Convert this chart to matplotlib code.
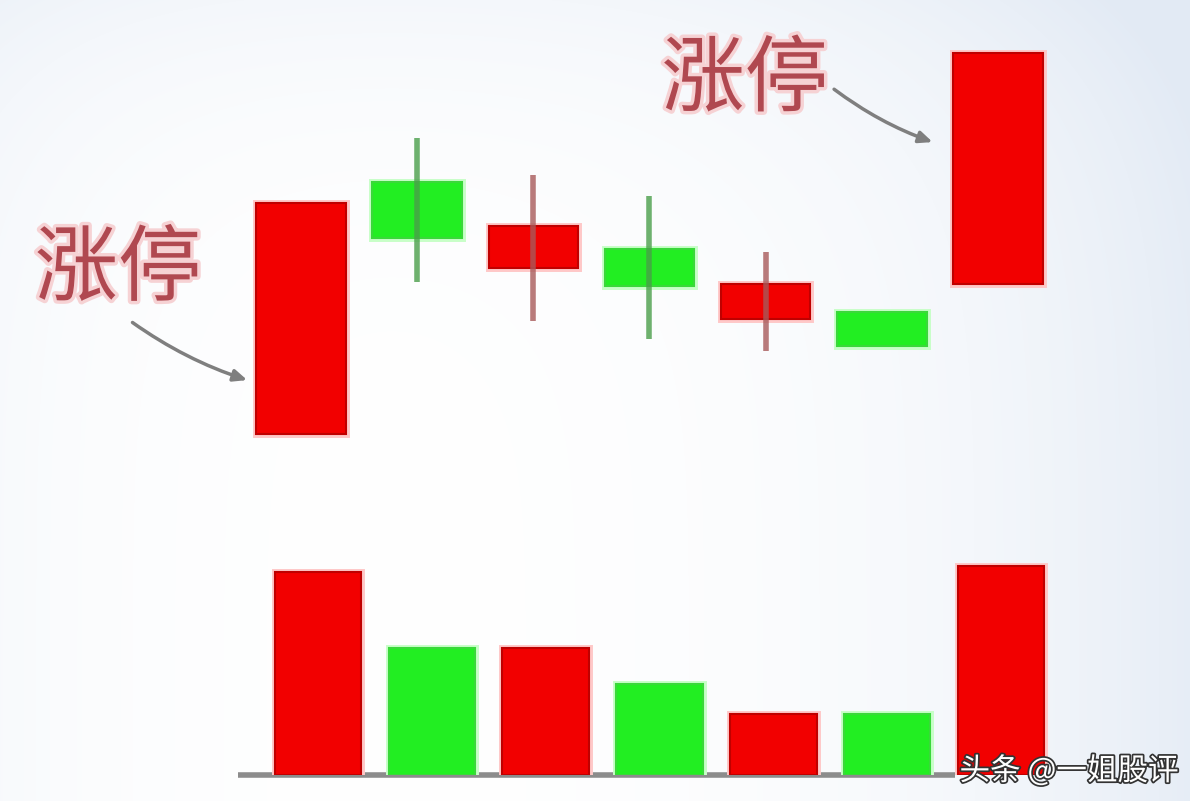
import numpy as np
import matplotlib
matplotlib.use('Agg')
import matplotlib.pyplot as plt
import matplotlib.patheffects as pe

plt.rcParams['font.family'] = ['Noto Sans CJK SC', 'DejaVu Sans']

# K线数据
opens = [10.00, 11.09, 10.72, 10.80, 10.50, 10.53, 10.65]
closes = [11.00, 10.85, 10.90, 10.64, 10.65, 10.38, 11.65]
highs = [11.00, 11.28, 11.12, 11.03, 10.79, 10.53, 11.65]
lows = [10.00, 10.66, 10.49, 10.41, 10.36, 10.38, 10.65]
volumes = [203, 127, 127, 91, 61, 61, 209]
label = '涨停'
watermark = '头条 @一姐股评'

red = '#f20000'
red_edge = '#c00000'
red_wick = '#a85a5a'
green = '#22ee22'
green_edge = '#3ad83a'
green_wick = '#4a9e4a'

fig = plt.figure(figsize=(12, 8.09), dpi=100)

# fond dégradé gris-bleu clair
bg = fig.add_axes([0, 0, 1, 1])
h, w = 809, 1200
xx, yy = np.meshgrid(np.linspace(0, 1, w), np.linspace(0, 1, h))
tint = np.clip(0.9 * xx ** 4 + 0.35 * (1 - yy) ** 6 + 0.25 * (1 - xx) ** 8, 0, 1)
base = np.array([1.0, 1.0, 1.0])
blue = np.array([0.89, 0.92, 0.96])
img = base[None, None, :] - tint[:, :, None] * (base - blue)[None, None, :]
img[-8:, :, :] = 1.0
img[:, -10:, :] = 1.0
bg.imshow(img, aspect='auto', extent=[0, 1, 0, 1])
bg.axis('off')

# axe des prix
ax = fig.add_axes([0, 0, 1, 1])
ax.patch.set_alpha(0)
n = len(opens)
x = np.arange(n)
ax.set_xlim(-2.591, 7.739)
ax.set_ylim(8.377, 11.879)
ax.axis('off')

glow_red = [pe.Stroke(linewidth=5, foreground='#ffc8c8'), pe.Normal()]
glow_green = [pe.Stroke(linewidth=5, foreground='#c8ffc8'), pe.Normal()]

for i in range(n):
    up = closes[i] >= opens[i]
    col = red if up else green
    wick = red_wick if up else green_wick
    if highs[i] > max(opens[i], closes[i]) or lows[i] < min(opens[i], closes[i]):
        ax.vlines(x[i], lows[i], highs[i], color=wick, lw=4, alpha=0.8, zorder=4)
    lo = min(opens[i], closes[i])
    b = ax.bar(x[i], abs(closes[i] - opens[i]), bottom=lo, width=0.77,
               color=col, edgecolor=red_edge if up else green_edge, lw=1.5, zorder=3)
    for p in b:
        p.set_path_effects(glow_red if up else glow_green)

# axe des volumes
vax = fig.add_axes([0, 34 / 809, 1, 230 / 809])
vax.patch.set_alpha(0)
vax.set_xlim(-2.794, 7.748)
vax.set_ylim(0, 230)
vax.axis('off')
vax.hlines(0, -0.70, 5.6, color='#8c8c8c', lw=4, zorder=1, clip_on=False)
vcols = [red if c >= o else green for o, c in zip(opens, closes)]
vedges = [red_edge if c >= o else green_edge for o, c in zip(opens, closes)]
bars = vax.bar(x, volumes, width=0.76, color=vcols, edgecolor=vedges, lw=1.5, zorder=2)
for p, c in zip(bars, vcols):
    p.set_path_effects(glow_red if c == red else glow_green)

# annotations 涨停
txt_fx = [pe.withStroke(linewidth=5, foreground='#f6d2d4')]
ax.text(x[0] - 1.575, opens[0] + 0.71, label, fontsize=60, color='#b04850',
        ha='center', va='center', path_effects=txt_fx, zorder=5)
ax.annotate('', xy=(x[0] - 0.44, opens[0] + 0.23), xytext=(x[0] - 1.47, opens[0] + 0.49),
            arrowprops=dict(arrowstyle='-|>,head_length=0.8,head_width=0.35', color='#7f7f7f',
                            lw=2.5, connectionstyle='arc3,rad=0.08'), zorder=5)
ax.text(x[-1] - 2.18, closes[-1] - 0.12, label, fontsize=60, color='#b04850',
        ha='center', va='center', path_effects=txt_fx, zorder=5)
ax.annotate('', xy=(x[-1] - 0.54, closes[-1] - 0.39), xytext=(x[-1] - 1.43, closes[-1] - 0.15),
            arrowprops=dict(arrowstyle='-|>,head_length=0.8,head_width=0.35', color='#7f7f7f',
                            lw=2.5, connectionstyle='arc3,rad=0.08'), zorder=5)

# filigrane
fig.text(0.982, 0.047, watermark, fontsize=22, color='white', ha='right', va='center',
         path_effects=[pe.withStroke(linewidth=2.5, foreground='#333333')])

fig.savefig('out.png', dpi=100)
